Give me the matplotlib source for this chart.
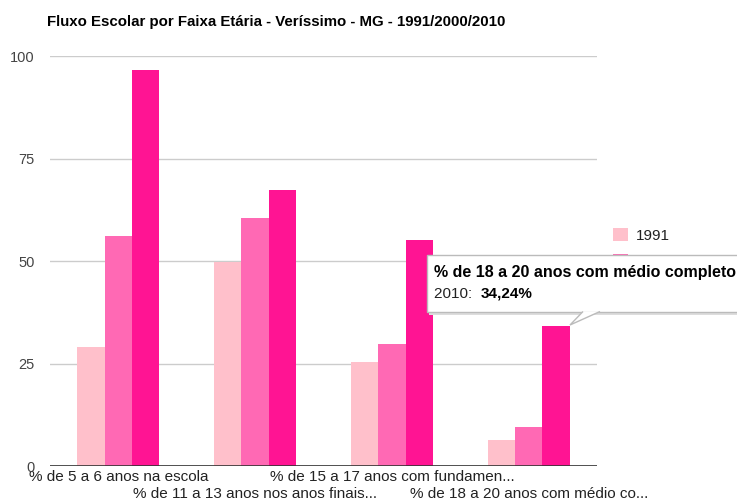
import numpy as np
import matplotlib
matplotlib.use('Agg')
import matplotlib.pyplot as plt
from matplotlib.patches import Rectangle, Polygon

plt.rcParams['font.family'] = ['Liberation Sans', 'DejaVu Sans']

categories = ['% de 5 a 6 anos na escola',
              '% de 11 a 13 anos nos anos finais...',
              '% de 15 a 17 anos com fundamen...',
              '% de 18 a 20 anos com médio co...']
years = ['1991', '2000', '2010']
v1991 = [29.0, 49.8, 25.4, 6.3]
v2000 = [56.1, 60.5, 29.8, 9.5]
v2010 = [96.6, 67.3, 55.1, 34.24]
colors = ['#ffc0cb', '#ff69b4', '#ff1493']

W, H = 737, 501
fig = plt.figure(figsize=(W / 100, H / 100), dpi=100)

def fx(px):
    return px / W

def fy(py):
    return 1 - py / H

ax = fig.add_axes([fx(50), fy(466), fx(597) - fx(50), fy(56) - fy(466)])

x = np.arange(len(categories)) + 0.5
bw = 0.2
for i, (vals, c, y) in enumerate(zip([v1991, v2000, v2010], colors, years)):
    ax.bar(x + (i - 1) * bw, vals, bw, color=c, label=y, zorder=2)

ax.set_xlim(0, 4)
ax.set_ylim(0, 100)
ax.set_yticks([0, 25, 50, 75, 100])
ax.yaxis.grid(True, color='#cccccc', lw=1, zorder=0)
ax.axhline(0, color='#333333', lw=1.2, zorder=3)
for s in ax.spines.values():
    s.set_visible(False)
ax.tick_params(axis='y', length=0, pad=11, labelsize=10.5, labelcolor='#444444')
ax.tick_params(axis='x', length=0, labelsize=11, labelcolor='#222222')
ax.set_xticks(x)
ax.set_xticklabels(categories)
for i, tk in enumerate(ax.xaxis.get_major_ticks()):
    tk.set_pad(3 if i % 2 == 0 else 15)

fig.text(fx(47), fy(22), 'Fluxo Escolar por Faixa Etária - Veríssimo - MG - 1991/2000/2010',
         fontsize=10.8, fontweight='bold', va='center', ha='left', color='#000000')

fig.legend(loc='upper left', bbox_to_anchor=(fx(599), fy(214)), frameon=False,
           handlelength=1.0, handleheight=1.0, handletextpad=0.5, fontsize=11,
           labelspacing=0.75, labelcolor='#222222')

# tooltip
shadow = Rectangle((fx(429), fy(315)), fx(737) - fx(427), fy(256) - fy(313),
                   transform=fig.transFigure, facecolor='#dddddd', edgecolor='none', zorder=9)
box = Rectangle((fx(427), fy(312)), fx(745) - fx(427), fy(255) - fy(312),
                transform=fig.transFigure, facecolor='white', edgecolor='#bbbbbb', lw=1, zorder=10)
fig.patches.extend([shadow, box])
tip = Polygon([(fx(583), fy(311.5)), (fx(570), fy(325)), (fx(600), fy(311.5))],
              closed=False, transform=fig.transFigure, facecolor='white',
              edgecolor='#bbbbbb', lw=1, zorder=11)
fig.patches.append(tip)
fig.text(fx(434), fy(273), '% de 18 a 20 anos com médio completo', fontsize=11.5,
         fontweight='bold', va='center', ha='left', color='#000000', zorder=12)
fig.text(fx(434), fy(294), '2010: ', fontsize=11, va='center', ha='left',
         color='#222222', zorder=12)
fig.text(fx(481), fy(294), '34,24%', fontsize=11, fontweight='bold', va='center',
         ha='left', color='#000000', zorder=12)

fig.savefig('out.png', dpi=100)
